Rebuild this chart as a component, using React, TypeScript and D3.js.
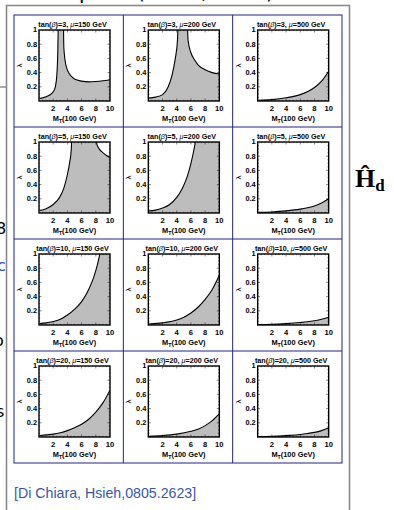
import React from "react";
import * as d3 from "d3";

const width = 394;
const height = 510;
const grid = { left: 14, top: 15, right: 342, bottom: 463 };

const tanBetas = [3, 5, 10, 20];
const mus = [150, 200, 500];
const xTicks = [2, 4, 6, 8, 10];
const yTicks = [0.2, 0.4, 0.6, 0.8, 1];

// boundary of the shaded region, [M_T (100 GeV), lambda], one list per mu
// values above 1 are clipped by the frame
const tb3 = [
  [[0.1, 0.035], [1, 0.06], [1.5, 0.085], [2, 0.13], [2.3, 0.2], [2.5, 0.35], [2.65, 0.7], [2.75, 1.3], [3.4, 1.3], [3.5, 0.75], [3.8, 0.5], [4.3, 0.38], [5, 0.31], [6, 0.28], [7, 0.27], [8, 0.275], [9, 0.285], [10, 0.3]],
  [[0.1, 0.04], [1, 0.055], [2, 0.09], [2.8, 0.2], [3.3, 0.35], [3.8, 0.6], [4.1, 0.85], [4.3, 1.3], [5.4, 1.3], [5.6, 0.85], [6, 0.68], [6.5, 0.58], [7, 0.51], [8, 0.44], [9, 0.4], [10, 0.38]],
  [[0.1, 0.01], [2, 0.02], [4, 0.045], [6, 0.09], [7, 0.13], [8, 0.19], [9, 0.28], [10, 0.42]],
];
const tb5 = [
  [[0.1, 0.035], [1, 0.06], [2, 0.12], [2.9, 0.22], [3.5, 0.35], [3.9, 0.5], [4.3, 0.7], [4.55, 0.9], [4.7, 1.3], [8.05, 1.3], [8.15, 0.97], [8.5, 0.9], [9, 0.85], [9.5, 0.81], [10, 0.78]],
  [[0.1, 0.03], [1, 0.04], [2, 0.07], [3, 0.12], [4, 0.22], [4.8, 0.35], [5.5, 0.52], [6, 0.7], [6.4, 0.88], [6.7, 1.05], [7, 1.3], [10, 1.3]],
  [[0.1, 0.01], [2, 0.015], [4, 0.03], [6, 0.055], [7, 0.075], [8, 0.1], [9, 0.14], [10, 0.2]],
];
const tb10 = [
  [[0.1, 0.02], [1, 0.03], [2, 0.05], [3, 0.08], [4, 0.14], [5, 0.22], [6, 0.33], [7, 0.5], [7.7, 0.67], [8.2, 0.84], [8.6, 1.02], [9, 1.3], [10, 1.3]],
  [[0.1, 0.015], [2, 0.03], [4, 0.07], [5, 0.11], [6, 0.17], [7, 0.25], [8, 0.36], [9, 0.5], [10, 0.7]],
  [[0.1, 0.005], [2, 0.01], [4, 0.02], [6, 0.035], [7, 0.045], [8, 0.06], [9, 0.08], [10, 0.11]],
];
const tb20 = [
  [[0.1, 0.02], [1, 0.03], [2, 0.04], [3, 0.06], [4, 0.09], [5, 0.13], [6, 0.18], [7, 0.25], [8, 0.35], [9, 0.48], [10, 0.66]],
  [[0.1, 0.01], [2, 0.02], [4, 0.04], [6, 0.08], [7, 0.11], [8, 0.16], [9, 0.23], [10, 0.33]],
  [[0.1, 0.005], [2, 0.01], [4, 0.02], [6, 0.035], [7, 0.05], [8, 0.065], [9, 0.09], [10, 0.13]],
];
const boundaries = [tb3, tb5, tb10, tb20];

const citation = "[Di Chiara, Hsieh,0805.2623]";

const sans = "'Liberation Sans', Arial, sans-serif";

function Panel({ x0, y0, tb, mu, pts, id }) {
  const xs = d3.scaleLinear().domain([0, 10]).range([x0 + 25, x0 + 96]);
  const ys = d3.scaleLinear().domain([0, 1]).range([y0 + 86, y0 + 15]);
  const area = d3
    .area()
    .x((d) => xs(d[0]))
    .y0(ys(0))
    .y1((d) => ys(d[1]))
    .curve(d3.curveMonotoneX);
  const line = d3
    .line()
    .x((d) => xs(d[0]))
    .y((d) => ys(d[1]))
    .curve(d3.curveMonotoneX);

  const minorX = d3.range(0.5, 10, 0.5);
  const minorY = d3.range(0.05, 1, 0.05);
  const [l, r] = xs.range();
  const [b, t] = ys.range();

  return (
    <g>
      <clipPath id={id}>
        <rect x={l} y={t} width={r - l} height={b - t} />
      </clipPath>
      <rect x={l} y={t} width={r - l} height={b - t} fill="white" />
      <g clipPath={`url(#${id})`}>
        <path d={area(pts)} fill="#bdbdbd" />
        <path d={line(pts)} fill="none" stroke="black" strokeWidth={1.1} />
      </g>
      {/* inward frame ticks */}
      {minorX.map((v) => (
        <g key={"mx" + v} stroke="black" strokeWidth={0.5}>
          <line x1={xs(v)} x2={xs(v)} y1={b} y2={b - (v % 2 === 0 ? 2.5 : 1.2)} />
          <line x1={xs(v)} x2={xs(v)} y1={t} y2={t + (v % 2 === 0 ? 2.5 : 1.2)} />
        </g>
      ))}
      {minorY.map((v) => (
        <g key={"my" + v} stroke="black" strokeWidth={0.5}>
          <line x1={l} x2={l + (Math.round(v * 100) % 20 === 0 ? 2.5 : 1.2)} y1={ys(v)} y2={ys(v)} />
          <line x1={r} x2={r - (Math.round(v * 100) % 20 === 0 ? 2.5 : 1.2)} y1={ys(v)} y2={ys(v)} />
        </g>
      ))}
      <rect x={l} y={t} width={r - l} height={b - t} fill="none" stroke="black" strokeWidth={1.4} />

      <text x={(l + r) / 2 - 2} y={y0 + 12} textAnchor="middle" fontSize={7.2} fontWeight="bold" fontFamily={sans}>
        tan(<tspan fontStyle="italic" fontWeight="normal">β</tspan>)={tb}, <tspan fontStyle="italic" fontWeight="normal">μ</tspan>={mu} GeV
      </text>

      {yTicks.map((v) => (
        <text key={"y" + v} x={l - 2} y={ys(v) + (v === 1 ? 1.5 : 2.6)} textAnchor="end" fontSize={7.4} fontWeight="bold" fontFamily={sans}>
          {v === 1 ? "1" : d3.format(".1f")(v)}
        </text>
      ))}
      {xTicks.map((v) => (
        <text key={"x" + v} x={xs(v)} y={b + 9.5} textAnchor="middle" fontSize={7.6} fontWeight="bold" fontFamily={sans}>
          {v}
        </text>
      ))}
      <text x={(l + r) / 2} y={b + 20} textAnchor="middle" fontSize={7.4} fontWeight="bold" fontFamily={sans}>
        M<tspan fontSize={5.2} dy={1.5}>T</tspan>
        <tspan dy={-1.5}>(100 GeV)</tspan>
      </text>
      <text transform={`translate(${x0 + 8},${(t + b) / 2}) rotate(-90)`} textAnchor="middle" fontSize={8} fontFamily={sans}>
        λ
      </text>
    </g>
  );
}

export default function App() {
  const col = d3.scaleBand().domain(d3.range(mus.length)).range([grid.left, grid.right]);
  const row = d3.scaleBand().domain(d3.range(tanBetas.length)).range([grid.top, grid.bottom]);

  return (
    <svg width={width} height={height} style={{ position: "absolute", left: 0, top: 0, background: "white" }}>
      {/* bits of the slide around the figure */}
      <g fontFamily="'DejaVu Sans', sans-serif" fontSize={20} fill="black">
        <text x={79} y={-1}>p</text>
        <text x={137} y={-1}>(</text>
        <text x={201} y={-1}>,</text>
        <text x={266} y={-1}>)</text>
      </g>
      <line x1={0} x2={7} y1={87} y2={87} stroke="#555" strokeWidth={1} />
      <g fontFamily="'DejaVu Sans', sans-serif" fontSize={16}>
        <text x={-4} y={234}>8</text>
        <text x={-3} y={271} fill="#2a4fcf">c</text>
        <text x={-6} y={346}>o</text>
        <text x={-4} y={417}>s</text>
      </g>
      <rect x={6.5} y={5.5} width={343} height={520} fill="none" stroke="#8a8a8a" strokeWidth={1.6} />

      {tanBetas.map((tb, i) =>
        mus.map((mu, j) => (
          <Panel key={`${i}-${j}`} id={`c${i}${j}`} x0={col(j)} y0={row(i)} tb={tb} mu={mu} pts={boundaries[i][j]} />
        ))
      )}

      {/* blue grid */}
      <g stroke="#22228a" strokeWidth={1}>
        <rect x={grid.left} y={grid.top} width={grid.right - grid.left} height={grid.bottom - grid.top} fill="none" />
        {d3.range(1, mus.length).map((j) => (
          <line key={"v" + j} x1={col(j)} x2={col(j)} y1={grid.top} y2={grid.bottom} />
        ))}
        {d3.range(1, tanBetas.length).map((i) => (
          <line key={"h" + i} x1={grid.left} x2={grid.right} y1={row(i)} y2={row(i)} />
        ))}
      </g>

      <text x={355} y={187} fontFamily="'Liberation Serif', 'DejaVu Serif', serif" fontWeight="bold" fontSize={26}>
        Ĥ<tspan fontSize={17} dy={4}>d</tspan>
      </text>

      <text x={14} y={498} fontFamily={sans} fontSize={14.2} fill="#3558a8">
        {citation}
      </text>
    </svg>
  );
}
